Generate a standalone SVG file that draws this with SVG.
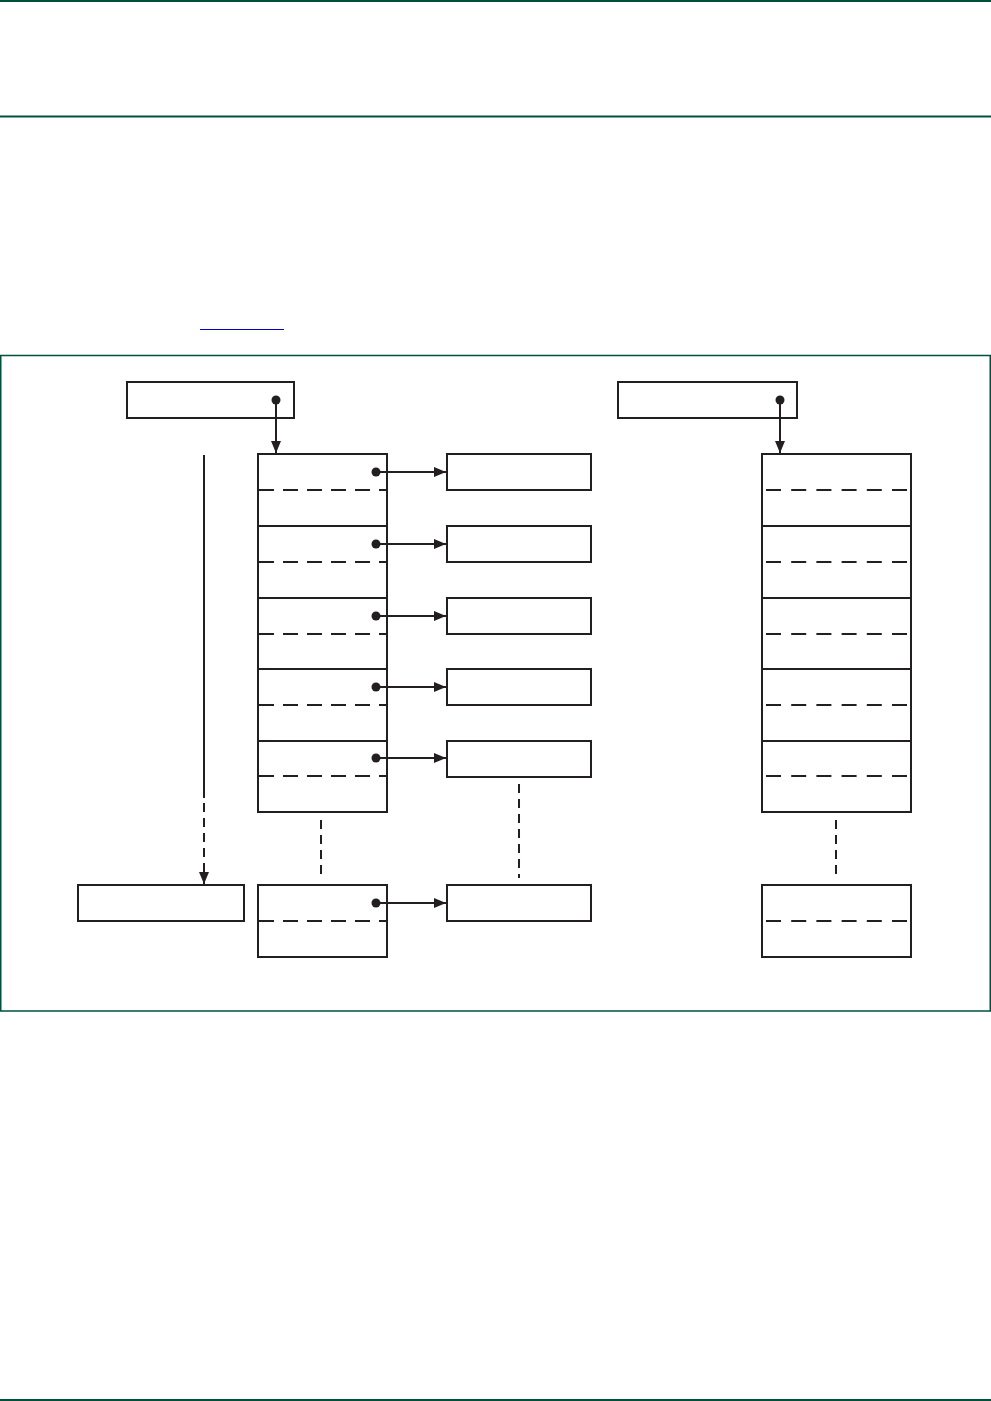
<svg xmlns="http://www.w3.org/2000/svg" width="991" height="1401" viewBox="0 0 991 1401">
<defs>
<style>
.b{fill:#fff;stroke:#231f20;stroke-width:2}
.d{stroke:#231f20;stroke-width:2;stroke-dasharray:15 9;fill:none}
.r{stroke:#231f20;stroke-width:2;stroke-dasharray:15 10.2;fill:none}
.c{stroke:#231f20;stroke-width:2;fill:none}
.v{stroke:#231f20;stroke-width:2;stroke-dasharray:9 6;fill:none}
.g{stroke:#00503c;fill:none}
.dot{fill:#231f20}
</style>
<marker id="ah" viewBox="0 0 12 10" refX="12" refY="5" markerWidth="12" markerHeight="10" markerUnits="userSpaceOnUse" orient="auto">
<path d="M0,0 L12,5 L0,10 z" fill="#231f20"/>
</marker>
</defs>
<rect width="991" height="1401" fill="#fff"/>
<g id="page">
<line class="g" x1="0" y1="1" x2="991" y2="1" stroke-width="2"/>
<line class="g" x1="0" y1="116.5" x2="991" y2="116.5" stroke-width="2"/>
<line class="g" x1="0" y1="1400" x2="991" y2="1400" stroke-width="2"/>
<line x1="200" y1="329.5" x2="284" y2="329.5" stroke="#0000cc" stroke-width="1.2"/>
<rect class="g" x="0.75" y="355.5" width="989.5" height="655.5" stroke-width="1.5"/>
</g>
<g id="head-left"><rect class="b" x="127" y="382" width="167" height="36"/></g>
<g id="head-right"><rect class="b" x="618" y="382" width="179" height="36"/></g>
<g id="colA">
<rect class="b" x="258" y="454" width="129" height="358"/>
<line class="c" x1="258" y1="526" x2="387" y2="526"/>
<line class="c" x1="258" y1="598" x2="387" y2="598"/>
<line class="c" x1="258" y1="669" x2="387" y2="669"/>
<line class="c" x1="258" y1="741" x2="387" y2="741"/>
<line class="d" x1="259" y1="490" x2="386" y2="490"/>
<line class="d" x1="259" y1="562" x2="386" y2="562"/>
<line class="d" x1="259" y1="634" x2="386" y2="634"/>
<line class="d" x1="259" y1="705" x2="386" y2="705"/>
<line class="d" x1="259" y1="776" x2="386" y2="776"/>
</g>
<g id="colA-last">
<rect class="b" x="258" y="885" width="129" height="72"/>
<line class="d" x1="259" y1="921" x2="386" y2="921"/>
</g>
<g id="colC">
<rect class="b" x="762" y="454" width="149" height="358"/>
<line class="c" x1="762" y1="526" x2="911" y2="526"/>
<line class="c" x1="762" y1="598" x2="911" y2="598"/>
<line class="c" x1="762" y1="669" x2="911" y2="669"/>
<line class="c" x1="762" y1="741" x2="911" y2="741"/>
<line class="r" x1="766" y1="490" x2="907" y2="490"/>
<line class="r" x1="766" y1="562" x2="907" y2="562"/>
<line class="r" x1="766" y1="634" x2="907" y2="634"/>
<line class="r" x1="766" y1="705" x2="907" y2="705"/>
<line class="r" x1="766" y1="776" x2="907" y2="776"/>
</g>
<g id="colC-last">
<rect class="b" x="762" y="885" width="149" height="72"/>
<line class="r" x1="766" y1="921" x2="907" y2="921"/>
</g>
<g id="b1"><rect class="b" x="447" y="454" width="144" height="36"/></g>
<g id="b2"><rect class="b" x="447" y="526" width="144" height="36"/></g>
<g id="b3"><rect class="b" x="447" y="598" width="144" height="36"/></g>
<g id="b4"><rect class="b" x="447" y="669" width="144" height="36"/></g>
<g id="b5"><rect class="b" x="447" y="741" width="144" height="36"/></g>
<g id="b6"><rect class="b" x="447" y="885" width="144" height="36"/></g>
<g id="end-left"><rect class="b" x="78" y="885" width="166" height="36"/></g>
<g id="connectors">
<circle class="dot" cx="276" cy="400" r="4.5"/>
<line class="c" x1="276" y1="400" x2="276" y2="453" marker-end="url(#ah)"/>
<circle class="dot" cx="780" cy="400" r="4.5"/>
<line class="c" x1="780" y1="400" x2="780" y2="453" marker-end="url(#ah)"/>
<circle class="dot" cx="376" cy="472" r="4.5"/>
<line class="c" x1="376" y1="472" x2="446" y2="472" marker-end="url(#ah)"/>
<circle class="dot" cx="376" cy="544" r="4.5"/>
<line class="c" x1="376" y1="544" x2="446" y2="544" marker-end="url(#ah)"/>
<circle class="dot" cx="376" cy="616" r="4.5"/>
<line class="c" x1="376" y1="616" x2="446" y2="616" marker-end="url(#ah)"/>
<circle class="dot" cx="376" cy="687" r="4.5"/>
<line class="c" x1="376" y1="687" x2="446" y2="687" marker-end="url(#ah)"/>
<circle class="dot" cx="376" cy="758" r="4.5"/>
<line class="c" x1="376" y1="758" x2="446" y2="758" marker-end="url(#ah)"/>
<circle class="dot" cx="376" cy="903" r="4.5"/>
<line class="c" x1="376" y1="903" x2="446" y2="903" marker-end="url(#ah)"/>
<line class="c" x1="204" y1="455" x2="204" y2="798"/>
<line class="v" x1="204" y1="803" x2="204" y2="874"/>
<line class="c" x1="204" y1="872" x2="204" y2="884" marker-end="url(#ah)"/>
<line class="v" x1="321" y1="820" x2="321" y2="878"/>
<line class="v" x1="519" y1="784" x2="519" y2="878"/>
<line class="v" x1="836" y1="820" x2="836" y2="878"/>
</g>
</svg>
